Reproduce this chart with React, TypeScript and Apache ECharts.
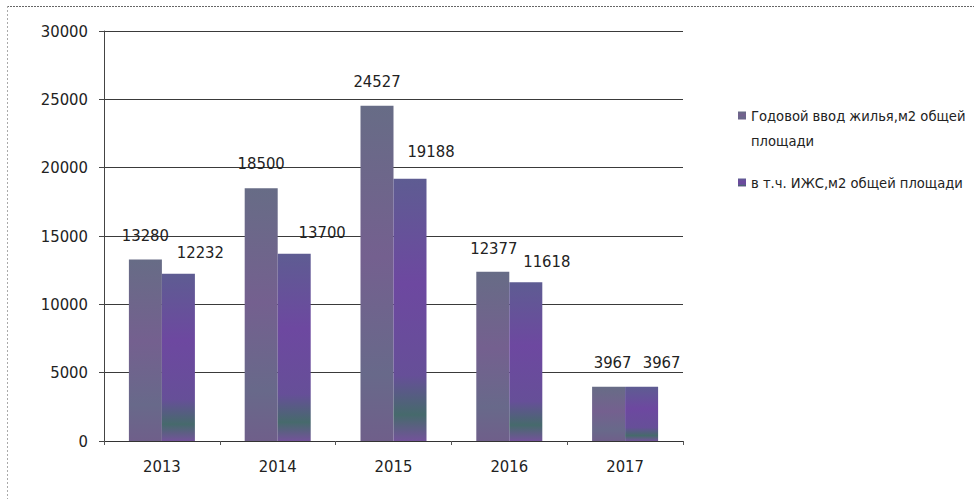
import React, { useEffect, useRef } from "react";
import * as echarts from "echarts";

const categories = ["2013", "2014", "2015", "2016", "2017"];
const seriesNames = [
  "Годовой ввод жилья,м2 общей\nплощади",
  "в т.ч. ИЖС,м2 общей площади",
];
const totalHousing = [13280, 18500, 24527, 12377, 3967];
const individualHousing = [12232, 13700, 19188, 11618, 3967];
const yTicks = [0, 5000, 10000, 15000, 20000, 25000, 30000];

// label placement tweaks (layout only)
const totalLabelOffsets = [[0, 0], [0, 0], [0, 0], [1, 1], [4, 0]];
const indivLabelOffsets = [[22, 0], [28, 0], [21, -6], [21, 1], [20, -3]];

const FONT = "'DejaVu Sans Condensed', 'Liberation Sans', sans-serif";

export default function App() {
  const ref = useRef<HTMLDivElement>(null);
  useEffect(() => {
    if (!ref.current) return;
    const chart = echarts.init(ref.current, undefined, { renderer: "svg" });
    const mkData = (vals: number[], offs: number[][]) =>
      vals.map((v, i) => ({ value: v, label: { offset: offs[i] } }));
    chart.setOption({
      animation: false,
      backgroundColor: "#ffffff",
      textStyle: { fontFamily: FONT },
      grid: { left: 104, right: 291, top: 31, bottom: 58, containLabel: false },
      legend: {
        orient: "vertical",
        left: 733,
        top: 73,
        itemWidth: 8,
        itemHeight: 8,
        itemGap: 17,
        icon: "rect",
        formatter: (name: string) => (name.indexOf("\n") >= 0 ? "\n" + name : name),
        textStyle: {
          fontSize: 14.6,
          color: "#222",
          lineHeight: 25,
          fontFamily: FONT,
        },
        data: seriesNames,
      },
      xAxis: {
        type: "category",
        data: categories,
        axisLine: { lineStyle: { color: "#333", width: 1 } },
        axisTick: { show: true, length: 4, lineStyle: { color: "#555" } },
        axisLabel: { fontSize: 16.5, color: "#222", margin: 17, fontFamily: FONT },
      },
      yAxis: {
        type: "value",
        min: yTicks[0],
        max: yTicks[yTicks.length - 1],
        interval: 5000,
        axisLine: { show: true, lineStyle: { color: "#444", width: 1 } },
        axisTick: { show: true, length: 5, lineStyle: { color: "#444" } },
        axisLabel: {
          fontSize: 16.5,
          color: "#222",
          margin: 16,
          fontFamily: FONT,
          formatter: (v: number) => String(v),
        },
        splitLine: { lineStyle: { color: "#3a3a3a", width: 1 } },
      },
      series: [
        {
          name: seriesNames[0],
          type: "bar",
          data: mkData(totalHousing, totalLabelOffsets),
          barWidth: "28.5%",
          barGap: "0%",
          itemStyle: {
            color: {
              type: "linear", x: 0, y: 0, x2: 0, y2: 1,
              colorStops: [
                { offset: 0, color: "#676c86" },
                { offset: 0.45, color: "#74608f" },
                { offset: 0.8, color: "#68698a" },
                { offset: 1, color: "#6f5f8a" },
              ],
            },
          },
          label: { show: true, position: "top", fontSize: 16.5, color: "#222", distance: 16, fontFamily: FONT },
        },
        {
          name: seriesNames[1],
          type: "bar",
          data: mkData(individualHousing, indivLabelOffsets),
          barWidth: "28.5%",
          itemStyle: {
            color: {
              type: "linear", x: 0, y: 0, x2: 0, y2: 1,
              colorStops: [
                { offset: 0, color: "#5e5c92" },
                { offset: 0.4, color: "#6d48a0" },
                { offset: 0.75, color: "#664f98" },
                { offset: 0.9, color: "#466a6c" },
                { offset: 1, color: "#73539a" },
              ],
            },
          },
          label: { show: true, position: "top", fontSize: 16.5, color: "#222", distance: 13, fontFamily: FONT },
        },
      ],
      graphic: [
        {
          type: "line",
          shape: { x1: 7, y1: 6.5, x2: 974, y2: 6.5 },
          style: { stroke: "#666", lineWidth: 1, lineDash: [2, 1] },
          silent: true,
        },
        {
          type: "line",
          shape: { x1: 7.5, y1: 6, x2: 7.5, y2: 499 },
          style: { stroke: "#aaa", lineWidth: 1, lineDash: [2, 2] },
          silent: true,
        },
      ],
    });
    return () => chart.dispose();
  }, []);
  return (
    <div
      ref={ref}
      style={{ position: "fixed", left: 0, top: 0, width: 974, height: 499 }}
    />
  );
}
